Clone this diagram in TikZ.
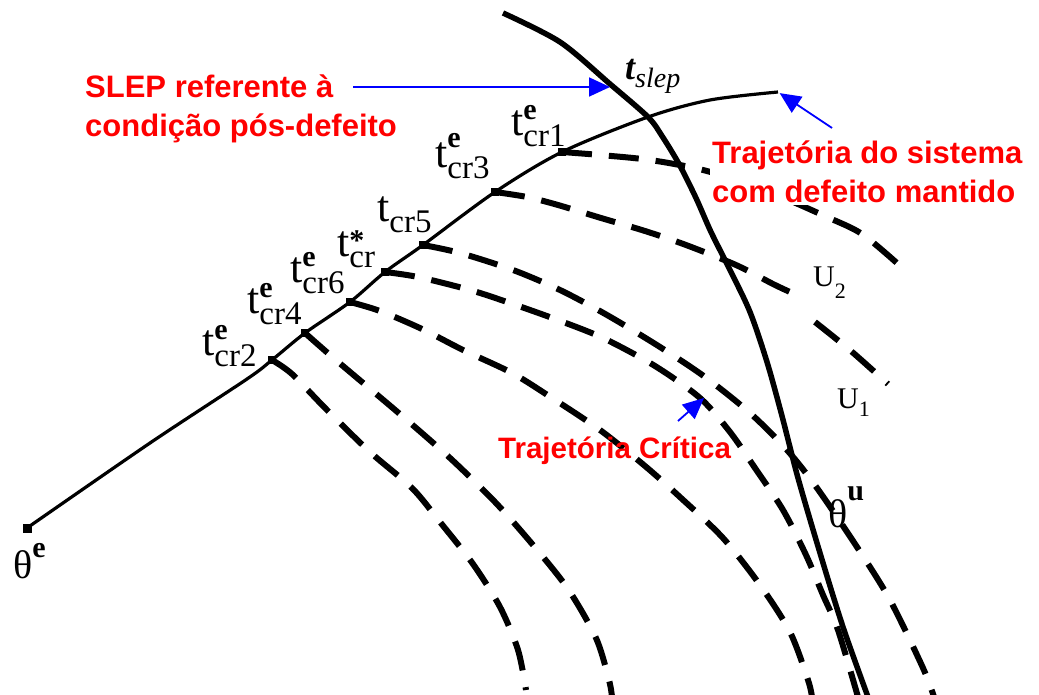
\documentclass[tikz,border=0pt]{standalone}
\usepackage{fontspec}
\setmainfont{Liberation Serif}
\setsansfont{Liberation Sans}
\usetikzlibrary{arrows.meta}

\newcommand{\subfont}{\fontsize{33}{33}\selectfont}
\newcommand{\supfont}{\fontsize{30}{30}\selectfont\bfseries}
\newcommand{\tcr}[3][16pt]{t\rlap{\raisebox{#1}{\supfont #2}}\raisebox{-11pt}{\subfont #3}}

\begin{document}
\begin{tikzpicture}[x=1pt,y=-1pt,
    fault/.style={line width=3.2pt, line join=round},
    manifold/.style={line width=5.5pt, line join=round},
    trajdash/.style={line width=6pt, dash pattern=on 30pt off 17pt},
    tlabel/.style={inner sep=0pt, anchor=base west, font=\fontsize{44}{44}\selectfont},
    redtext/.style={text=red, inner sep=0pt, anchor=base west, align=left, font=\sffamily\bfseries\fontsize{31}{39}\selectfont},
    bluearrow/.style={blue, line width=1.8pt, -{Triangle[length=21pt,width=19pt]}}]

    \useasboundingbox (0,0) rectangle (1039,695);

    \coordinate (thetaE) at (27,528);
    \coordinate (cr2) at (272,360);
    \coordinate (cr4) at (305,333);
    \coordinate (cr6) at (350,302);
    \coordinate (crs) at (385,272);
    \coordinate (cr5) at (423,245);
    \coordinate (cr3) at (495,192);
    \coordinate (cr1) at (562,152);
    \coordinate (slep) at (648,117);
    \coordinate (faultEnd) at (778,92);

    % trajectories after clearing
    \draw[trajdash] plot[smooth] coordinates {(cr1) (600,155) (650,160) (703,170) (760,188) (827,217) (862,234) (898,264)};
    \draw[trajdash] plot[smooth] coordinates {(cr3) (527,197) (558,205) (601,218) (645,231) (686,245) (736,265) (773,284) (790,292)};
    \draw[trajdash] plot[smooth] coordinates {(815,322) (851,351) (888,384)};
    \draw[trajdash] plot[smooth] coordinates {(cr5) (460,253) (513,270) (560,290) (607,315) (660,347) (705,377) (750,413) (787,450) (817,488) (857,547) (890,600) (923,668) (934,697)};
    \draw[trajdash] plot[smooth] coordinates {(crs) (418,277) (470,290) (507,302) (555,319) (603,338) (655,366) (700,398) (730,432) (755,468) (783,510) (806,555) (823,595) (838,630) (858,697)};
    \draw[trajdash] plot[smooth] coordinates {(cr6) (380,311) (422,329) (463,350) (512,373) (552,398) (600,430) (645,466) (681,498) (723,538) (760,585) (790,632) (808,680) (812,697)};
    \draw[trajdash] plot[smooth] coordinates {(cr4) (330,355) (356,377) (401,415) (450,458) (495,502) (533,545) (568,589) (596,638) (609,680) (612,697)};
    \draw[trajdash] plot[smooth] coordinates {(cr2) (292,374) (327,410) (370,452) (412,488) (440,522) (473,564) (500,607) (518,650) (526,690)};

    \draw[manifold] plot[smooth] coordinates {(503,13) (560,42) (610,84) (slep) (662,136) (679,164) (696,198) (711,232) (730,270) (750,312) (767,362) (782,416) (798,478) (820,553) (843,627) (868,697)};
    \draw[fault] plot[smooth, tension=0.5] coordinates {(thetaE) (150,443) (247,379) (cr2) (cr4) (cr6) (crs) (cr5) (cr3) (cr1) (slep) (710,100) (faultEnd)};

    \foreach \p in {cr2,cr4,cr6,crs,cr5,cr3,cr1}
        \fill (\p) +(-4,-4) rectangle +(4,4);
    \fill (thetaE) +(-4.5,-4.5) rectangle +(4.5,4.5);

    \node[tlabel] (lcr2) at (202,355) {\tcr{e}{cr2}};
    \node[tlabel] (lcr4) at (247,313) {\tcr{e}{cr4}};
    \node[tlabel] (lcr6) at (290,282) {\tcr{e}{cr6}};
    \node[tlabel] (lcrs) at (337,257) {\tcr[6pt]{*}{cr}};
    \node[tlabel] (lcr5) at (377,222) {\tcr{}{cr5}};
    \node[tlabel] (lcr3) at (435,168) {\tcr[20pt]{e}{cr3}};
    \node[tlabel] (lcr1) at (511,136) {\tcr{e}{cr1}};
    \node[inner sep=0pt, anchor=base west] (lslep) at (625,80)
        {{\fontsize{36}{36}\selectfont\bfseries\itshape t}\raisebox{-8pt}{\fontsize{28}{28}\selectfont\itshape slep}};

    \node[inner sep=0pt, anchor=base west, font=\fontsize{40}{40}\selectfont] (lthetaE) at (13,578) {θ\raisebox{21pt}{\supfont e}};
    \node[inner sep=0pt, anchor=base west, font=\fontsize{40}{40}\selectfont] (lthetaU) at (828,527) {θ\raisebox{27pt}{\supfont u}};
    \node[inner sep=0pt, anchor=base west, font=\fontsize{30}{30}\selectfont] (lU2) at (813,287) {U\raisebox{-12pt}{\fontsize{22}{22}\selectfont 2}};
    \node[inner sep=0pt, anchor=base west, font=\fontsize{30}{30}\selectfont] (lU1) at (837,408) {U\raisebox{-8pt}{\fontsize{22}{22}\selectfont 1}};

    \node[redtext] (slepText) at (85,137) {SLEP referente à\\condição pós-defeito};
    \node[redtext, fill=white, inner sep=2pt] (faultText) at (710,203) {Trajetória do sistema\\com defeito mantido};
    \node[redtext, font=\sffamily\bfseries\fontsize{29.5}{35}\selectfont] (critText) at (498,458) {Trajetória Crítica};

    \coordinate (slepTail) at (353,87);
    \coordinate (slepTip) at (610,87);
    \coordinate (faultTail) at (832,128);
    \coordinate (critTail) at (678,421);
    \coordinate (critTip) at (704,398);
    \draw[bluearrow] (slepTail) -- (slepTip);
    \draw[bluearrow, shorten >=2pt] (faultTail) -- (faultEnd);
    \draw[bluearrow] (critTail) -- (critTip);
\end{tikzpicture}
\end{document}
